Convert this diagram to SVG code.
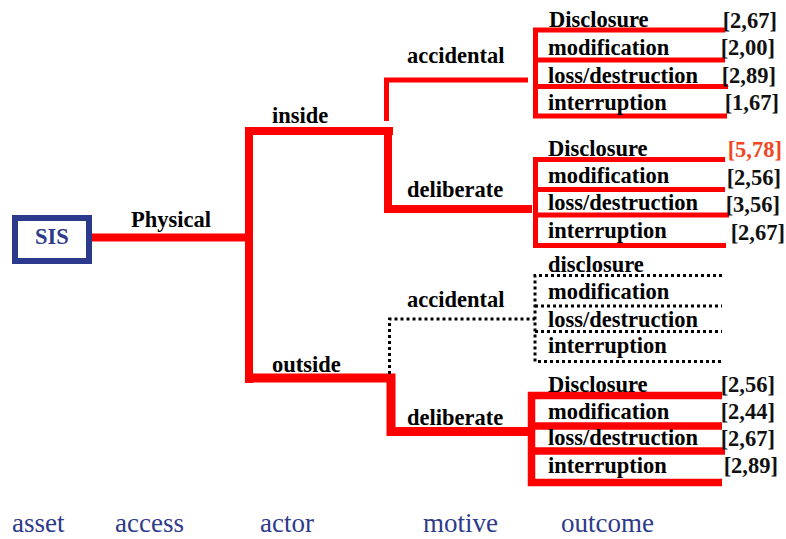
<svg xmlns="http://www.w3.org/2000/svg" width="786" height="539" viewBox="0 0 786 539">
  <style>
    .lbl { font-family: "Liberation Serif", "Times New Roman", serif; font-weight: bold; font-size: 22.5px; fill: #000; }
    .val { font-family: "Liberation Serif", "Times New Roman", serif; font-weight: bold; font-size: 22.5px; fill: #111; }
    .hot { fill: #F2461E; }
    .axis { font-family: "Liberation Serif", "Times New Roman", serif; font-size: 27px; fill: #2E3A8A; }
    .red { fill: none; stroke: #FF0000; stroke-linecap: butt; stroke-linejoin: miter; }
    .thick { stroke-width: 8; }
    .thin { stroke-width: 5; }
    .dot { fill: none; stroke: #000; stroke-width: 3; stroke-dasharray: 3 3; }
  </style>

  <!-- connectors -->
  <g id="connectors">
    <!-- asset to access -->
    <path class="red thick" d="M92,237.5 H249"/>
    <!-- access split: inside / outside -->
    <path class="red thick" d="M249,383 V131 H393"/>
    <!-- inside: deliberate -->
    <path class="red thick" d="M388,127 V209 H532"/>
    <!-- inside: accidental -->
    <path class="red thin" d="M386.5,121 V80 H528"/>
    <!-- outside: deliberate -->
    <path class="red" stroke-width="9" d="M245,378 H391 V431.5 H531.5"/>
    <!-- outside: accidental (not weighted) -->
    <path class="dot" d="M389.5,374 V319 H535"/>

    <!-- outcome brackets -->
    <g id="bracket-inside-accidental">
      <path class="red thin" d="M725,30 H535.5 V116 H727"/>
      <path class="red thin" d="M535.5,60 H725"/>
      <path class="red thin" d="M535.5,86.5 H728"/>
    </g>
    <g id="bracket-inside-deliberate">
      <path class="red thin" d="M725,159.5 H535.5 V245.5 H726"/>
      <path class="red thin" d="M535.5,189.5 H725"/>
      <path class="red thin" d="M535.5,215 H729"/>
    </g>
    <g id="bracket-outside-accidental">
      <path class="dot" d="M722,275.5 H535 V361.5 H722"/>
      <path class="dot" d="M535,306 H722"/>
      <path class="dot" d="M535,331.5 H722"/>
    </g>
    <g id="bracket-outside-deliberate">
      <path class="red" stroke-width="7.5" d="M722,395.5 H531.5 V482.5 H722"/>
      <path class="red" stroke-width="7.5" d="M531.5,426 H722"/>
      <path class="red" stroke-width="7.5" d="M531.5,451 H725"/>
    </g>
  </g>

  <!-- asset -->
  <g id="node-sis">
    <rect x="15" y="218" width="74" height="43" fill="#fff" stroke="#2B3A8C" stroke-width="6"/>
    <text x="52" y="244" text-anchor="middle" class="lbl" style="fill:#2E3A8A">SIS</text>
  </g>

  <!-- access -->
  <g id="node-physical"><text x="131" y="227" class="lbl">Physical</text></g>

  <!-- actor -->
  <g id="node-inside"><text x="272" y="123" class="lbl">inside</text></g>
  <g id="node-outside"><text x="272" y="372" class="lbl">outside</text></g>

  <!-- motive -->
  <g id="node-inside-accidental"><text x="407" y="63" class="lbl">accidental</text></g>
  <g id="node-inside-deliberate"><text x="407" y="197" class="lbl">deliberate</text></g>
  <g id="node-outside-accidental"><text x="407" y="307" class="lbl">accidental</text></g>
  <g id="node-outside-deliberate"><text x="407" y="425" class="lbl">deliberate</text></g>

  <!-- outcomes: inside / accidental -->
  <g id="node-ia-disclosure"><text x="549" y="27" class="lbl">Disclosure</text><text x="777" y="28" text-anchor="end" class="val">[2,67]</text></g>
  <g id="node-ia-modification"><text x="548" y="55" class="lbl">modification</text><text x="775" y="55" text-anchor="end" class="val">[2,00]</text></g>
  <g id="node-ia-loss"><text x="548" y="83" class="lbl">loss/destruction</text><text x="776" y="83" text-anchor="end" class="val">[2,89]</text></g>
  <g id="node-ia-interruption"><text x="548" y="110" class="lbl">interruption</text><text x="779" y="110" text-anchor="end" class="val">[1,67]</text></g>

  <!-- outcomes: inside / deliberate -->
  <g id="node-id-disclosure"><text x="548" y="156" class="lbl">Disclosure</text><text x="782" y="157" text-anchor="end" class="val hot">[5,78]</text></g>
  <g id="node-id-modification"><text x="548" y="183" class="lbl">modification</text><text x="781" y="185" text-anchor="end" class="val">[2,56]</text></g>
  <g id="node-id-loss"><text x="548" y="210" class="lbl">loss/destruction</text><text x="780" y="212" text-anchor="end" class="val">[3,56]</text></g>
  <g id="node-id-interruption"><text x="548" y="238" class="lbl">interruption</text><text x="785" y="240" text-anchor="end" class="val">[2,67]</text></g>

  <!-- outcomes: outside / accidental -->
  <g id="node-oa-disclosure"><text x="548" y="272" class="lbl">disclosure</text></g>
  <g id="node-oa-modification"><text x="548" y="299" class="lbl">modification</text></g>
  <g id="node-oa-loss"><text x="548" y="327" class="lbl">loss/destruction</text></g>
  <g id="node-oa-interruption"><text x="548" y="353" class="lbl">interruption</text></g>

  <!-- outcomes: outside / deliberate -->
  <g id="node-od-disclosure"><text x="548" y="392" class="lbl">Disclosure</text><text x="775" y="392" text-anchor="end" class="val">[2,56]</text></g>
  <g id="node-od-modification"><text x="548" y="419" class="lbl">modification</text><text x="775" y="419" text-anchor="end" class="val">[2,44]</text></g>
  <g id="node-od-loss"><text x="548" y="445" class="lbl">loss/destruction</text><text x="775" y="446" text-anchor="end" class="val">[2,67]</text></g>
  <g id="node-od-interruption"><text x="548" y="473" class="lbl">interruption</text><text x="778" y="473" text-anchor="end" class="val">[2,89]</text></g>

  <!-- level captions -->
  <g id="captions">
    <text x="12" y="532" class="axis">asset</text>
    <text x="115" y="532" class="axis">access</text>
    <text x="260" y="532" class="axis">actor</text>
    <text x="423" y="532" class="axis">motive</text>
    <text x="561" y="532" class="axis">outcome</text>
  </g>
</svg>
